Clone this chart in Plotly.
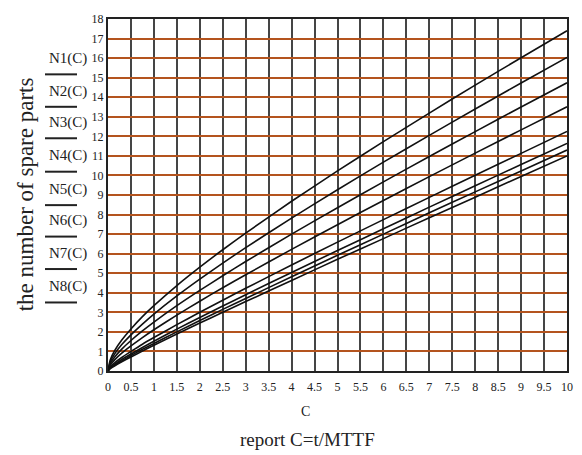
import plotly.graph_objects as go

C = [0, 0.05, 0.15, 0.3, 0.5, 0.75, 1, 1.5, 2, 2.5, 3, 4, 5, 6, 7, 8, 9, 10]

N1 = [0, 0.57, 1.06, 1.58, 2.15, 2.78, 3.34, 4.37, 5.31, 6.20, 7.05, 8.68, 10.23, 11.73, 13.19, 14.62, 16.02, 17.40]
N2 = [0, 0.48, 0.89, 1.35, 1.85, 2.40, 2.91, 3.84, 4.70, 5.52, 6.31, 7.82, 9.27, 10.68, 12.05, 13.40, 14.73, 16.04]
N3 = [0, 0.39, 0.73, 1.12, 1.56, 2.05, 2.50, 3.34, 4.12, 4.87, 5.60, 7.00, 8.35, 9.67, 10.97, 12.24, 13.50, 14.74]
N4 = [0, 0.30, 0.58, 0.91, 1.28, 1.71, 2.11, 2.86, 3.57, 4.26, 4.92, 6.22, 7.48, 8.72, 9.94, 11.14, 12.33, 13.51]
N5 = [0, 0.21, 0.43, 0.69, 1.00, 1.37, 1.71, 2.37, 3.00, 3.62, 4.23, 5.42, 6.59, 7.74, 8.88, 10.01, 11.13, 12.25]
N6 = [0, 0.17, 0.35, 0.59, 0.87, 1.20, 1.52, 2.14, 2.74, 3.32, 3.90, 5.04, 6.16, 7.27, 8.38, 9.47, 10.56, 11.64]
N7 = [0, 0.14, 0.31, 0.52, 0.79, 1.11, 1.41, 2.00, 2.58, 3.15, 3.71, 4.82, 5.92, 7.00, 8.09, 9.16, 10.23, 11.30]
N8 = [0, 0.12, 0.27, 0.47, 0.72, 1.02, 1.32, 1.89, 2.45, 3.00, 3.55, 4.63, 5.71, 6.77, 7.84, 8.89, 9.95, 11.00]

series = [N1, N2, N3, N4, N5, N6, N7, N8]
names = ["N1(C)", "N2(C)", "N3(C)", "N4(C)", "N5(C)", "N6(C)", "N7(C)", "N8(C)"]

x_ticks = [i * 0.5 for i in range(21)]
x_labels = ["0", "0.5", "1", "1.5", "2", "2.5", "3", "3.5", "4", "4.5", "5",
            "5.5", "6", "6.5", "7", "7.5", "8", "8.5", "9", "9.5", "10"]
y_ticks = list(range(19))

SERIF = "Liberation Serif"
TXT = "#222222"

# page body has an 8px margin: absolute plot area 108..567 x 12.7..370.7
OFF = 8
PL, PR, PT, PB = 108, 567, 12.7, 370.7
W, H = 582 - OFF, 455 - OFF
PW, PH = PR - PL, PB - PT


def px(xa):
    return (xa - PL) / PW


def py(ya):
    return (PB - ya) / PH


fig = go.Figure()
for name, ys in zip(names, series):
    fig.add_trace(go.Scatter(x=C, y=ys, mode="lines", name=name,
                             line=dict(color="#111111", width=1.6, shape="spline", smoothing=0.6),
                             showlegend=False))

fig.update_layout(
    width=W, height=H,
    margin=dict(l=PL - OFF, r=W - (PR - OFF), t=PT - OFF, b=H - (PB - OFF), pad=0),
    paper_bgcolor="white", plot_bgcolor="white",
    font=dict(family=SERIF, color=TXT),
    xaxis=dict(range=[0, 10], tickvals=x_ticks, ticktext=x_labels,
               showgrid=True, gridcolor="#454545", gridwidth=2,
               showline=True, linecolor="#222222", linewidth=2, mirror=True,
               ticks="outside", ticklen=4, tickcolor="rgba(0,0,0,0)",
               tickfont=dict(family=SERIF, size=12, color=TXT), zeroline=False),
    yaxis=dict(range=[0, 18], tickvals=y_ticks,
               showgrid=True, gridcolor="#B4541E", gridwidth=2,
               showline=True, linecolor="#222222", linewidth=2, mirror=True,
               ticks="", tickfont=dict(family=SERIF, size=12, color=TXT), zeroline=False),
)

# axis titles
fig.add_annotation(xref="paper", yref="paper", x=px(305), y=py(411.5),
                   text="C", showarrow=False, font=dict(family=SERIF, size=14, color=TXT),
                   xanchor="center", yanchor="middle")
fig.add_annotation(xref="paper", yref="paper", x=px(307), y=py(440),
                   text="report C=t/MTTF", showarrow=False, font=dict(family=SERIF, size=19, color=TXT),
                   xanchor="center", yanchor="middle")
fig.add_annotation(xref="paper", yref="paper", x=px(25), y=py(191),
                   text="the number of spare parts", showarrow=False, textangle=-90,
                   font=dict(family=SERIF, size=23, color=TXT),
                   xanchor="center", yanchor="middle")

# legend-like labels with line samples
label_y = [53, 86, 118, 152, 186, 218, 251, 285]
for name, ly in zip(names, label_y):
    fig.add_annotation(xref="paper", yref="paper", x=px(68), y=py(ly),
                       text=name, showarrow=False, font=dict(family=SERIF, size=15, color=TXT),
                       xanchor="center", yanchor="middle")
    yl = py(ly + 16)
    fig.add_shape(type="line", xref="paper", yref="paper",
                  x0=px(45), x1=px(77), y0=yl, y1=yl,
                  line=dict(color="#222222", width=2))

fig.write_html("out.html")
